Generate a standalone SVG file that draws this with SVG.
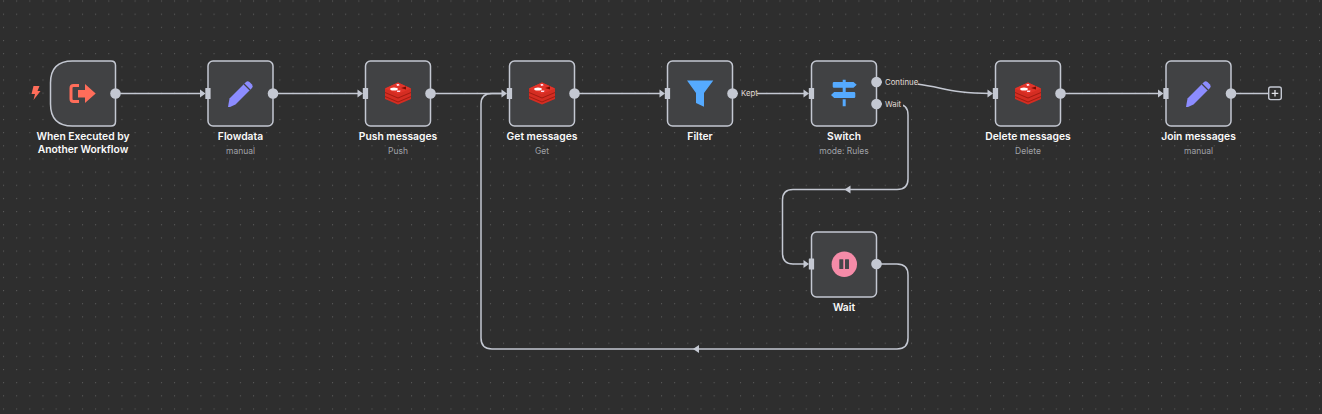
<svg xmlns="http://www.w3.org/2000/svg" width="1322" height="414" viewBox="0 0 1322 414">
<defs>
<style>
.n{fill:#414244;stroke:#c4c8d2;stroke-width:1.5}
.c{fill:none;stroke:#c4c8d2;stroke-width:1.5}
.t{font-family:Inter,"Liberation Sans",sans-serif;font-size:10.3px;font-weight:600;fill:#fafafa;text-anchor:middle}
.s{font-family:Inter,"Liberation Sans",sans-serif;font-size:8.5px;fill:#a0a2a8;text-anchor:middle}
.l{font-family:Inter,"Liberation Sans",sans-serif;font-size:7.8px;fill:#e0dcd6}
.p{fill:#c4c8d2}
.bg{fill:#2e2e2e}
</style>
<pattern id="grid" width="13.16" height="13.16" patternUnits="userSpaceOnUse" x="3" y="0.500"><circle cx="0.500" cy="0.500" r="0.600" fill="#5c5c5c"/></pattern>
<g id="redis">
<path d="M-13 -5 L0 -11 L13 -5 V5.500 L0 11 L-13 5.500Z" fill="#d42d22"/>
<path d="M-13 -1.500 L0 4 L13 -1.500 V-0.500 L0 5 L-13 -0.500Z" fill="#a01c12"/>
<path d="M-13 2.500 L0 8 L13 2.500 V3.500 L0 9 L-13 3.500Z" fill="#a01c12"/>
<path d="M-13 -5 L0 -11 L13 -5 L0 0.500Z" fill="#e2342a"/>
<ellipse cx="-4" cy="-4.500" rx="3.800" ry="1.500" fill="#fff"/>
<path d="M-1.500 -9.500 L1 -9.500 L1.500 -8 L-1 -7.500Z" fill="#fde"/>
<path d="M-1 -3 L2.500 -3 L2 -1.500 L-1 -1.500Z" fill="#fde"/>
<path d="M3 -5.500 L8 -7 L8 -4Z" fill="#7a0c00"/>
</g>
<g id="pen"><path d="M-12.500 13.500 L-11 5 L5.500 -11.500 Q7 -13 9 -11.500 L11.500 -9 Q13 -7 11.500 -5.500 L-5 11 L-10.500 13.500Z" fill="#8c8cff"/><path d="M3.500 -9.500 L9.500 -3.500" stroke="#414244" stroke-width="1.200"/></g>
<rect id="inp" class="p" width="5.300" height="11" rx="0.500"/>
<path id="arr" class="p" d="M0 -4L5.500 0L0 4Z"/>
</defs>
<rect width="1322" height="414" class="bg"/>
<rect width="1322" height="414" fill="url(#grid)"/>
<g id="connectors">
<path class="c" d="M115.500 93.500H204"/>
<path class="c" d="M273 93.500H361"/>
<path class="c" d="M430.500 93.500H505"/>
<path class="c" d="M574.500 93.500H663"/>
<path class="c" d="M732.500 93.500H807"/>
<path class="c" d="M876.500 82C945 82 935 93.500 991 93.500"/>
<path class="c" d="M1060.500 93.500H1161"/>
<path class="c" d="M1231 93.500H1268"/>
<path class="c" d="M876.500 104H897Q908 104 908 115V179Q908 189.500 897 189.500H793Q782.500 189.500 782.500 200V253Q782.500 264 793 264H807"/>
<path class="c" d="M876.500 264H897Q908 264 908 275V338Q908 349 897 349H492Q481 349 481 338V104Q481 93.500 492 93.500H505"/>
<use href="#arr" x="200" y="93.500"/><use href="#arr" x="357.500" y="93.500"/><use href="#arr" x="501.500" y="93.500"/><use href="#arr" x="659.500" y="93.500"/><use href="#arr" x="803.500" y="93.500"/><use href="#arr" x="987.500" y="93.500"/><use href="#arr" x="1158" y="93.500"/><use href="#arr" x="803.500" y="264"/>
<path class="p" d="M850.500 185.500L844.500 189.500L850.500 193.500Z"/><path class="p" d="M699 345L693 349L699 353Z"/>
</g>
<g id="trigger"><path class="n" d="M72.500 61H111Q115.500 61 115.500 65.500V121.500Q115.500 126 111 126H72.500Q50.500 126 50.500 104V83Q50.500 61 72.500 61Z"/>
<path d="M33.500 86H39.500L37.500 91H40.500L33.500 100L35 94H31.500Z" fill="#ff6d5a"/>
<path d="M79 85.500H73.500Q71 85.500 71 88V99Q71 101.500 73.500 101.500H79" fill="none" stroke="#ff6d5a" stroke-width="3"/><path d="M78 90H85V84L95.700 93.500L85 103V97.500H78Z" fill="#ff6d5a"/>
<circle class="p" cx="115.500" cy="93.500" r="5.300"/>
<text class="t" x="83" y="140">When Executed by</text><text class="t" x="83" y="153">Another Workflow</text></g>
<g id="flowdata"><rect class="n" x="208" y="61" width="65" height="65" rx="5"/><use href="#inp" x="205.300" y="88"/><use href="#pen" x="240.500" y="93.500"/><circle class="p" cx="273" cy="93.500" r="5.300"/><text class="t" x="240.500" y="140">Flowdata</text><text class="s" x="240.500" y="154">manual</text></g>
<g id="push"><rect class="n" x="365.500" y="61" width="65" height="65" rx="5"/><use href="#inp" x="362.800" y="88"/><use href="#redis" x="398" y="93.500"/><circle class="p" cx="430.500" cy="93.500" r="5.300"/><text class="t" x="398" y="140">Push messages</text><text class="s" x="398" y="154">Push</text></g>
<g id="get"><rect class="n" x="509.500" y="61" width="65" height="65" rx="5"/><use href="#inp" x="506.800" y="88"/><use href="#redis" x="542" y="93.500"/><circle class="p" cx="574.500" cy="93.500" r="5.300"/><text class="t" x="542" y="140">Get messages</text><text class="s" x="542" y="154">Get</text></g>
<g id="filter"><rect class="n" x="667.500" y="61" width="65" height="65" rx="5"/><use href="#inp" x="664.800" y="88"/><path d="M687 80.500H713.300L704 93V106.700L696 103V93Z" fill="#55aaff"/><circle class="p" cx="732.500" cy="93.500" r="5.300"/><text class="t" x="700" y="140">Filter</text></g>
<g id="switch"><rect class="n" x="811.500" y="61" width="65" height="65" rx="5"/><use href="#inp" x="808.800" y="88"/><path d="M834 82H853.500L856.700 84.800L853.500 87.700H834Q832.700 87.700 832.700 86.500V83.200Q832.700 82 834 82ZM834.200 92H854Q855.300 92 855.300 93.200V96.800Q855.300 98 854 98H834.200L831 95ZM842.700 79.700H845.700V82H842.700ZM842.700 87.700H845.700V92H842.700ZM842.700 99.300H845.700V106.300H842.700Z" fill="#55aaff"/><circle class="p" cx="876.500" cy="82" r="5.300"/><circle class="p" cx="876.500" cy="104" r="5.300"/><text class="t" x="844" y="140">Switch</text><text class="s" x="844" y="154">mode: Rules</text></g>
<g id="delete"><rect class="n" x="995.500" y="61" width="65" height="65" rx="5"/><use href="#inp" x="992.800" y="88"/><use href="#redis" x="1028" y="93.500"/><circle class="p" cx="1060.500" cy="93.500" r="5.300"/><text class="t" x="1028" y="140">Delete messages</text><text class="s" x="1028" y="154">Delete</text></g>
<g id="join"><rect class="n" x="1166" y="61" width="65" height="65" rx="5"/><use href="#inp" x="1163.300" y="88"/><use href="#pen" x="1198.500" y="93.500"/><circle class="p" cx="1231" cy="93.500" r="5.300"/><text class="t" x="1198.500" y="140">Join messages</text><text class="s" x="1198.500" y="154">manual</text></g>
<g id="wait"><rect class="n" x="811.500" y="232" width="65" height="65" rx="5"/><use href="#inp" x="808.800" y="258.500"/><circle cx="844.300" cy="264.200" r="12.700" fill="#f58ba8"/><rect x="839.300" y="259.300" width="4" height="9.700" rx="0.500" fill="#45464a"/><rect x="845" y="259.300" width="4" height="9.700" rx="0.500" fill="#45464a"/><circle class="p" cx="876.500" cy="264" r="5.300"/><text class="t" x="844" y="311">Wait</text></g>
<g id="add"><rect x="1268.700" y="87" width="12.600" height="12.600" rx="2" class="bg" stroke="#c4c8d2" stroke-width="1.400"/><path d="M1275 90V96.600M1271.700 93.300H1278.300" stroke="#e0e2e8" stroke-width="1.300"/></g>
<g id="labels"><rect class="bg" x="738" y="88" width="19" height="11"/><text class="l" x="741" y="96">Kept</text><rect class="bg" x="882" y="77" width="36" height="10"/><text class="l" x="885" y="85">Continue</text><rect class="bg" x="882" y="98" width="21" height="11"/><text class="l" x="885" y="107">Wait</text></g>
</svg>
